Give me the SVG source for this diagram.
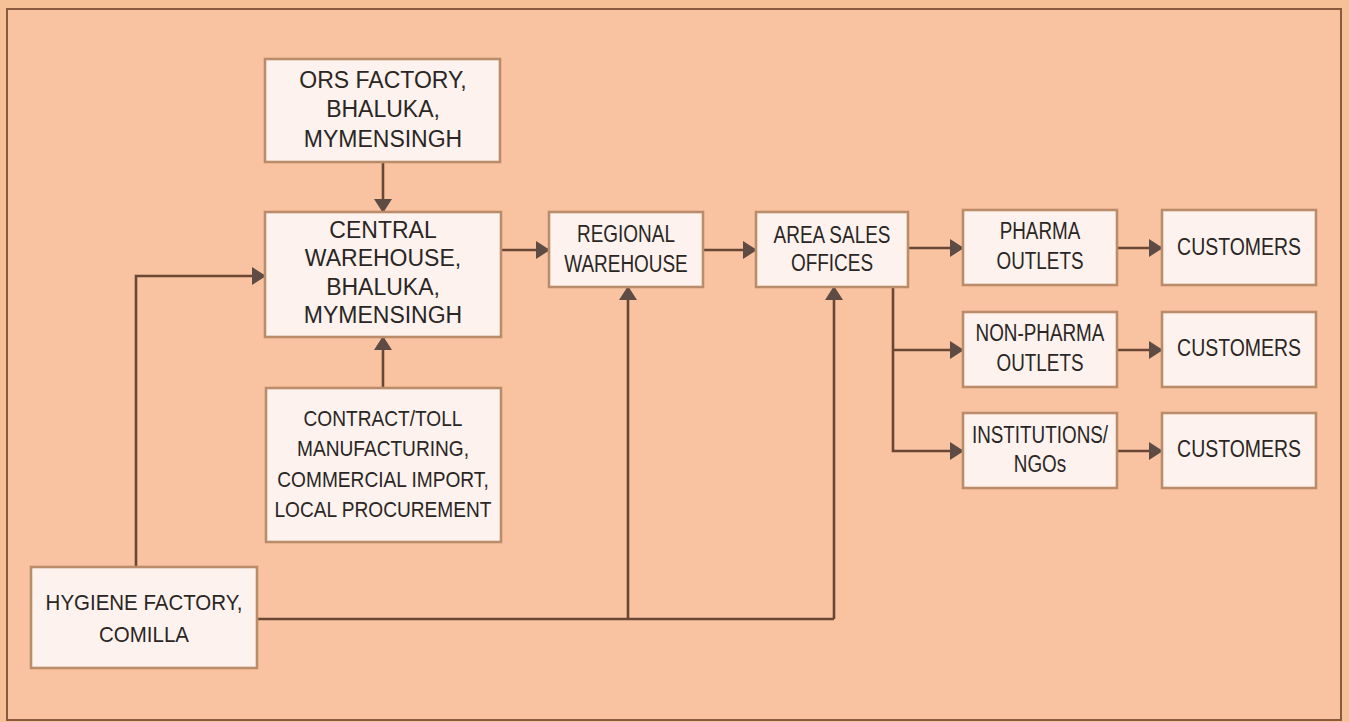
<svg xmlns="http://www.w3.org/2000/svg" width="1349" height="722" viewBox="0 0 1349 722">
<style>
.box{fill:#fdf2ee;stroke:#bb8c6a;stroke-width:2.6}
.lbl{font-family:"Liberation Sans",Arial,sans-serif;font-size:21px;fill:#2a2624;text-anchor:middle}
.big{font-size:23px}
.mid{font-size:22.5px}
.tall{font-size:24px}
.ln{fill:none;stroke:#6a4634;stroke-width:2.6}
</style>
<defs>
<marker id="ah" viewBox="0 0 14 18" refX="13" refY="9" markerWidth="14" markerHeight="18" markerUnits="userSpaceOnUse" orient="auto">
<path d="M0,0 L14,9 L0,18 Z" fill="#5e4c44"/>
</marker>
</defs>
<rect x="0" y="0" width="1349" height="722" fill="#f6c197"/>
<rect x="7" y="9" width="1334" height="711" fill="#f9c3a2" stroke="#8a5a40" stroke-width="2"/>

<g id="connectors">
<path class="ln" d="M383,162 V212" marker-end="url(#ah)"/>
<path class="ln" d="M383,388 V337" marker-end="url(#ah)"/>
<path class="ln" d="M136,567 V276 H265" marker-end="url(#ah)"/>
<path class="ln" d="M257,619 H834"/>
<path class="ln" d="M628,619 V287" marker-end="url(#ah)"/>
<path class="ln" d="M834,619 V287" marker-end="url(#ah)"/>
<path class="ln" d="M501,250 H549" marker-end="url(#ah)"/>
<path class="ln" d="M703,250 H756" marker-end="url(#ah)"/>
<path class="ln" d="M908,248 H963" marker-end="url(#ah)"/>
<path class="ln" d="M893,287 V451 H963" marker-end="url(#ah)"/>
<path class="ln" d="M893,350 H963" marker-end="url(#ah)"/>
<path class="ln" d="M1117,248 H1162" marker-end="url(#ah)"/>
<path class="ln" d="M1117,350 H1162" marker-end="url(#ah)"/>
<path class="ln" d="M1117,451 H1162" marker-end="url(#ah)"/>
</g>

<g id="ors">
<rect class="box" x="265" y="59" width="235" height="103"/>
<text class="lbl big" transform="translate(383 0) scale(1 1)"><tspan x="0" y="88">ORS FACTORY,</tspan><tspan x="0" y="117">BHALUKA,</tspan><tspan x="0" y="147">MYMENSINGH</tspan></text>
</g>
<g id="central">
<rect class="box" x="265" y="212" width="236" height="125"/>
<text class="lbl big" transform="translate(383 0) scale(1 1)"><tspan x="0" y="238">CENTRAL</tspan><tspan x="0" y="266">WAREHOUSE,</tspan><tspan x="0" y="295">BHALUKA,</tspan><tspan x="0" y="323">MYMENSINGH</tspan></text>
</g>
<g id="contract">
<rect class="box" x="266" y="388" width="235" height="154"/>
<text class="lbl mid" transform="translate(383 0) scale(0.85 1)"><tspan x="0" y="426">CONTRACT/TOLL</tspan><tspan x="0" y="456">MANUFACTURING,</tspan><tspan x="0" y="487">COMMERCIAL IMPORT,</tspan><tspan x="0" y="517">LOCAL PROCUREMENT</tspan></text>
</g>
<g id="hygiene">
<rect class="box" x="31" y="567" width="226" height="101"/>
<text class="lbl mid" transform="translate(144 0) scale(0.91 1)"><tspan x="0" y="610">HYGIENE FACTORY,</tspan><tspan x="0" y="642">COMILLA</tspan></text>
</g>
<g id="regional">
<rect class="box" x="549" y="212" width="154" height="75"/>
<text class="lbl tall" transform="translate(626 0) scale(0.79 1)"><tspan x="0" y="242">REGIONAL</tspan><tspan x="0" y="272">WAREHOUSE</tspan></text>
</g>
<g id="area">
<rect class="box" x="756" y="212" width="152" height="75"/>
<text class="lbl tall" transform="translate(832 0) scale(0.79 1)"><tspan x="0" y="243">AREA SALES</tspan><tspan x="0" y="271">OFFICES</tspan></text>
</g>
<g id="pharma">
<rect class="box" x="963" y="210" width="154" height="75"/>
<text class="lbl big" transform="translate(1040 0) scale(0.82 1)"><tspan x="0" y="239">PHARMA</tspan><tspan x="0" y="269">OUTLETS</tspan></text>
</g>
<g id="nonpharma">
<rect class="box" x="963" y="312" width="154" height="75"/>
<text class="lbl big" transform="translate(1040 0) scale(0.82 1)"><tspan x="0" y="341">NON-PHARMA</tspan><tspan x="0" y="371">OUTLETS</tspan></text>
</g>
<g id="institutions">
<rect class="box" x="963" y="413" width="154" height="75"/>
<text class="lbl big" transform="translate(1040 0) scale(0.82 1)"><tspan x="0" y="443">INSTITUTIONS/</tspan><tspan x="0" y="472">NGOs</tspan></text>
</g>
<g id="customers1">
<rect class="box" x="1162" y="210" width="154" height="75"/>
<text class="lbl tall" transform="translate(1239 0) scale(0.81 1)"><tspan x="0" y="255">CUSTOMERS</tspan></text>
</g>
<g id="customers2">
<rect class="box" x="1162" y="312" width="154" height="75"/>
<text class="lbl tall" transform="translate(1239 0) scale(0.81 1)"><tspan x="0" y="356">CUSTOMERS</tspan></text>
</g>
<g id="customers3">
<rect class="box" x="1162" y="413" width="154" height="75"/>
<text class="lbl tall" transform="translate(1239 0) scale(0.81 1)"><tspan x="0" y="457">CUSTOMERS</tspan></text>
</g>
</svg>
